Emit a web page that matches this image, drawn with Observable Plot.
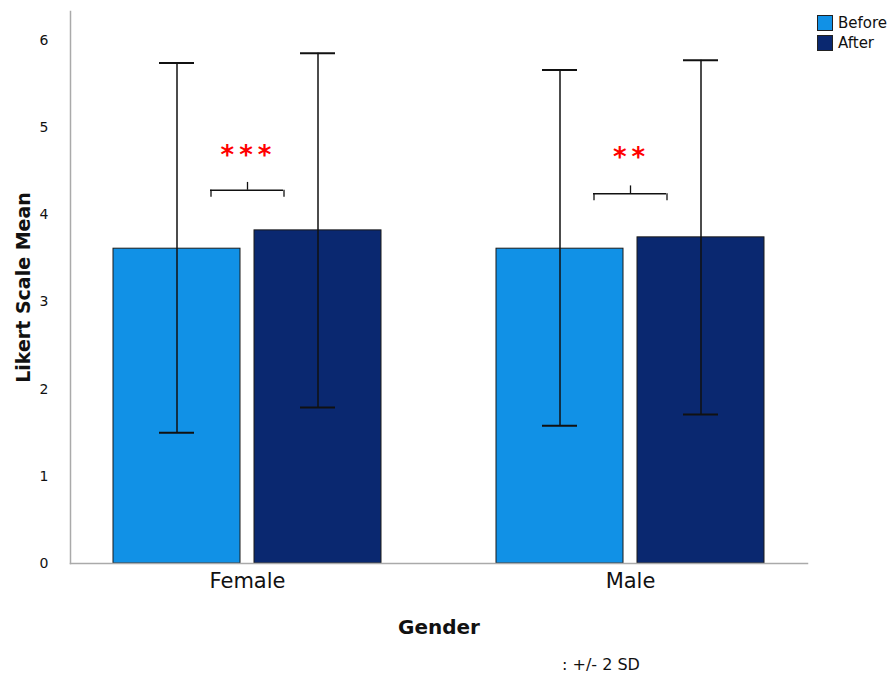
<!DOCTYPE html>
<html><head><meta charset="utf-8">
<script src="https://cdn.jsdelivr.net/npm/d3@7"></script>
<script src="https://cdn.jsdelivr.net/npm/@observablehq/plot@0.6"></script>
<style>
body{margin:0;background:#fff;font-family:"DejaVu Sans",sans-serif;}
#wrap{position:relative;width:894px;height:677px;overflow:hidden;}
#legend{position:absolute;left:817px;top:13px;font-size:15px;color:#111;}
#legend .item{display:flex;align-items:center;height:20px;}
#legend .sw{display:inline-block;width:14px;height:14px;border:1px solid #222;margin-right:5px;}
#caption{position:absolute;left:562px;top:655px;font-size:16px;color:#111;}
g[aria-label="y-axis label"] text{font-size:19px;font-weight:bold;}
g[aria-label="fx-axis label"] text{font-size:20px;font-weight:bold;}
g[aria-label="text"] text{letter-spacing:5px;}
</style></head><body><div id="wrap"></div>
<script>
const genders = ["Female", "Male"];
const times = ["Before", "After"];
const meanBefore = [3.61, 3.61];
const meanAfter = [3.82, 3.74];
const lowBefore = [1.50, 1.58];
const highBefore = [5.74, 5.66];
const lowAfter = [1.79, 1.71];
const highAfter = [5.85, 5.77];
const sigLabels = ["***", "**"];
const bracketLevel = [4.28, 4.24];
const starLevel = [4.71, 4.69];
const yTicks = [0, 1, 2, 3, 4, 5, 6];
const colors = ["#1191e6", "#0a2870"];

const rows = [];
genders.forEach((g, i) => {
  rows.push({gender: g, time: "Before", mean: meanBefore[i], lo: lowBefore[i], hi: highBefore[i]});
  rows.push({gender: g, time: "After", mean: meanAfter[i], lo: lowAfter[i], hi: highAfter[i]});
});
const sig = genders.map((g, i) => ({gender: g, label: sigLabels[i], by: bracketLevel[i], sy: starLevel[i]}));

const chart = Plot.plot({
  width: 894, height: 645,
  marginLeft: 69, marginRight: 86, marginTop: 11, marginBottom: 82,
  style: {fontFamily: "DejaVu Sans", background: "white", color: "#111"},
  fx: {domain: genders, paddingInner: 0.0755, paddingOuter: 0, label: null},
  x: {domain: times, axis: null, paddingInner: 0.096, paddingOuter: 0.3016},
  y: {domain: [0, 6.33], label: null},
  color: {domain: times, range: colors},
  marks: [
    Plot.barY(rows, {fx: "gender", x: "time", y: "mean", fill: "time", stroke: "#1a1a1a", strokeWidth: 1}),
    Plot.ruleX(rows, {fx: "gender", x: "time", y1: "lo", y2: "hi", stroke: "#111", strokeWidth: 1.5}),
    Plot.tickY(rows, {fx: "gender", x: "time", y: "hi", stroke: "#111", strokeWidth: 2, insetLeft: 46, insetRight: 46}),
    Plot.tickY(rows, {fx: "gender", x: "time", y: "lo", stroke: "#111", strokeWidth: 2, insetLeft: 46, insetRight: 46}),
    Plot.ruleY(sig, {fx: "gender", y: "by", insetLeft: 140, insetRight: 141, stroke: "#111", strokeWidth: 1.3}),
    Plot.ruleX(sig, {fx: "gender", x: null, y1: "by", y2: d => d.by - 0.08, dx: -36.5, stroke: "#111", strokeWidth: 1.3}),
    Plot.ruleX(sig, {fx: "gender", x: null, y1: "by", y2: d => d.by - 0.08, dx: 36.5, stroke: "#111", strokeWidth: 1.3}),
    Plot.ruleX(sig, {fx: "gender", x: null, y1: "by", y2: d => d.by + 0.09, dx: 0, stroke: "#111", strokeWidth: 1.3}),
    Plot.text(sig, {fx: "gender", y: "sy", text: "label", fill: "red", fontSize: 26, fontWeight: "bold", dx: 1, dy: 3}),
    Plot.axisY({ticks: yTicks, tickFormat: "d", tickSize: 0, tickPadding: 22, fontSize: 14, label: "Likert Scale Mean", labelAnchor: "center", labelArrow: "none", labelOffset: 54}),
    Plot.axisFx({anchor: "bottom", tickSize: 0, tickPadding: 10, fontSize: 21, label: "Gender", labelAnchor: "center", labelOffset: 70}),
    Plot.frame({anchor: "bottom", stroke: "#aaa", strokeWidth: 1.5, facet: "super"}),
    Plot.frame({anchor: "left", stroke: "#aaa", strokeWidth: 1.5, facet: "super"})
  ]
});

const wrap = document.getElementById("wrap");
wrap.appendChild(chart);
const legend = document.createElement("div");
legend.id = "legend";
times.forEach((t, i) => {
  const item = document.createElement("div");
  item.className = "item";
  const sw = document.createElement("span");
  sw.className = "sw";
  sw.style.background = colors[i];
  item.appendChild(sw);
  item.appendChild(document.createTextNode(t));
  legend.appendChild(item);
});
wrap.appendChild(legend);
const cap = document.createElement("div");
cap.id = "caption";
cap.textContent = ": +/- 2 SD";
wrap.appendChild(cap);
</script></body></html>
